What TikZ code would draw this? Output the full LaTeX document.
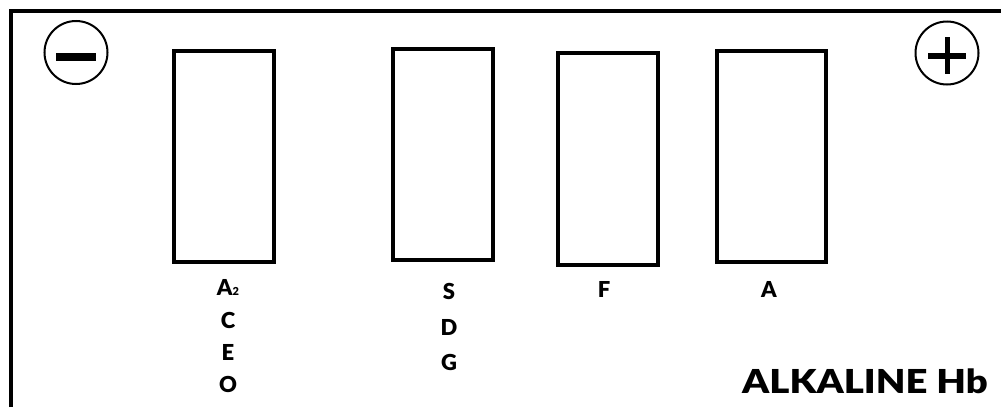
\documentclass[tikz,border=0pt]{standalone}
\usepackage{fontspec}
\setmainfont{Lato}
\newfontfamily\blk{Lato Black}
\begin{document}
\begin{tikzpicture}[x=1pt,y=-1pt,
  gel/.style={draw=black,line width=4pt,minimum width=100pt,minimum height=211pt,inner sep=0pt,fill=white},
  lbl/.style={font=\fontsize{22}{22}\blk\selectfont,anchor=base,inner sep=0pt},
  pole/.style={draw=black,line width=2pt,circle,minimum size=63pt,inner sep=0pt}]
\useasboundingbox (0,0) rectangle (1001,407);
% frame
\draw[line width=4pt] (11,407) -- (11,11) -- (1001,11);
% electrodes
\node[pole] (neg) at (76,52.5) {};
\node[pole] (pos) at (947,53) {};
\fill (56,52.5) rectangle (96,60.5);
\fill (928,52.5) rectangle (966,58.5);
\fill (944.5,37) rectangle (950,74);
% gel bands
\node[gel] (r1) at (224,156.5) {};
\node[gel] (r2) at (443,154.5) {};
\node[gel,minimum height=212pt] (r3) at (608,159) {};
\node[gel,minimum width=109pt] (r4) at (771.5,156.5) {};
% labels
\node[lbl] (a2) at (228,295) {A{\fontsize{11}{11}\selectfont 2}};
\node[lbl] (c) at (228,328) {C};
\node[lbl] (e) at (228,360) {E};
\node[lbl] (o) at (228,392) {O};
\node[lbl] (s) at (449,299) {S};
\node[lbl] (d) at (449,335) {D};
\node[lbl] (g) at (449,370) {G};
\node[lbl] (f) at (604,297) {F};
\node[lbl] (a) at (769,297) {A};
\node[font=\fontsize{33}{33}\blk\selectfont,anchor=base east,inner sep=0pt,xscale=1.16,transform shape] (title) at (988,393) {ALKALINE Hb};
\end{tikzpicture}
\end{document}
